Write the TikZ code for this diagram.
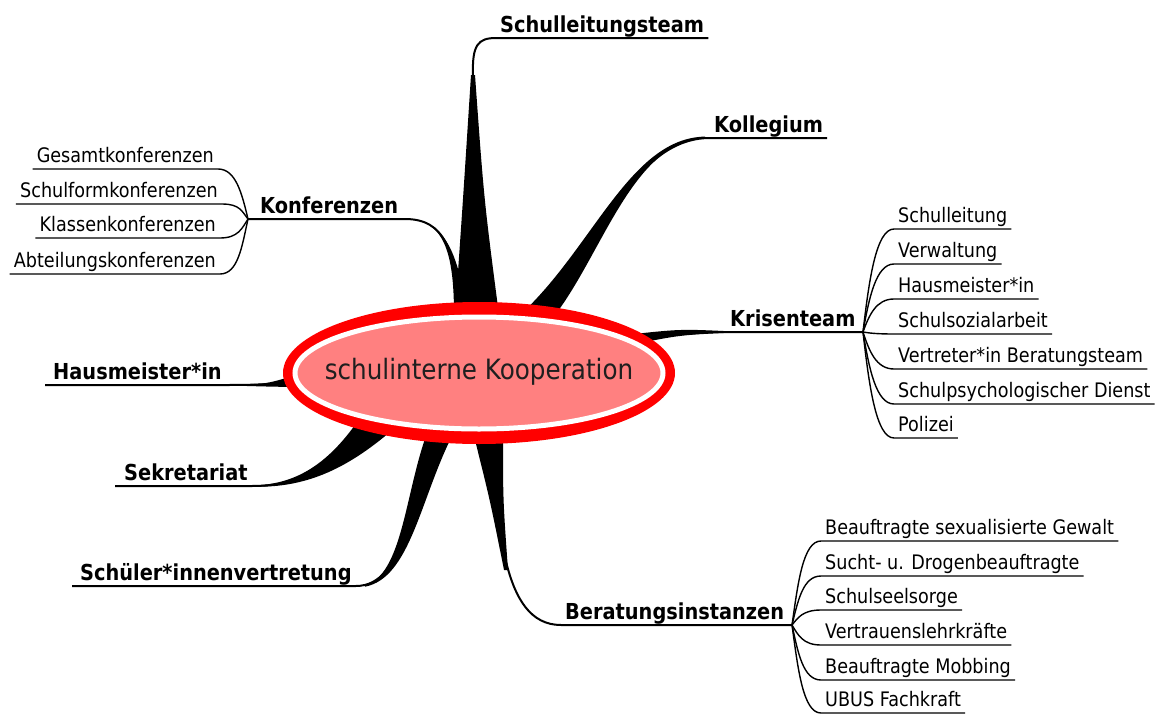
\documentclass[tikz,border=0pt]{standalone}
\usepackage{fontspec}
\setmainfont{DejaVu Sans}[FakeStretch=0.88]
\definecolor{pinkc}{RGB}{255,128,128}
\definecolor{ringred}{RGB}{255,0,0}
\begin{document}
\begin{tikzpicture}[x=1pt,y=-1pt,
  sub/.style={font=\fontsize{20}{23}\selectfont, anchor=south west, inner xsep=4pt, inner ysep=2pt, text height=15pt, text depth=4.5pt},
  subl/.style={sub, anchor=south east},
  mainlbl/.style={font=\fontsize{22}{25}\selectfont\bfseries, anchor=south west, inner xsep=4pt, inner ysep=1.5pt, text height=16pt, text depth=4pt},
  branch/.style={line width=2pt},
  subline/.style={line width=1.4pt},
  taper/.style={fill=black}]
\useasboundingbox (0,0) rectangle (1160,715);

% ---------- labels of main branches
\node[mainlbl] (slt) at (496,38) {Schulleitungsteam};
\node[mainlbl] (kol) at (710,138) {Kollegium};
\node[mainlbl] (kon) at (256,219) {Konferenzen};
\node[mainlbl] (hm) at (49,385) {Hausmeister*in};
\node[mainlbl] (sek) at (120,486) {Sekretariat};
\node[mainlbl] (sv) at (76,586) {Schüler*innenvertretung};
\node[mainlbl] (kt) at (726,332) {Krisenteam};
\node[mainlbl] (bi) at (561,625) {Beratungsinstanzen};

% ---------- junctions and base points
\coordinate (kJ) at (248,219);
\coordinate (ktJ) at (863,332);
\coordinate (biJ) at (792,625);
\coordinate (hmS) at (45,385);
\coordinate (sekS) at (115,486);
\coordinate (svS) at (72,586);
\coordinate (bSLT) at (477,315);
\coordinate (bKOL) at (537,315);
\coordinate (bKON) at (461,315);
\coordinate (bKT) at (630,339);
\coordinate (bBI) at (488,436);
\coordinate (bHM) at (292,382);
\coordinate (bSEK) at (372,430);
\coordinate (bSV) at (438,436);

% ---------- Schulleitungsteam
\fill[taper] (455,315) .. controls (463,200) .. (471,75) -- (475,75) .. controls (484,200) .. (499,315) -- cycle;
\draw[branch] (bSLT) -- (473,75) .. controls (472,45) and (478,38) .. (slt.south west) -- (slt.south east);

% ---------- Kollegium
\fill[taper] (520,315) .. controls (593,248) and (630,138) .. (705,136.6) -- (705,138.4) .. controls (634,140) and (603,252) .. (555,315) -- cycle;
\draw[branch] (bKOL) .. controls (598,250) and (632,138) .. (kol.south west) -- (kol.south east);

% ---------- Konferenzen
\fill[taper] (454,315) .. controls (454,252) and (444,219) .. (405,218.6) -- (405,219.4) .. controls (446,219.5) and (457,252) .. (468,315) -- cycle;
\draw[branch] (bKON) .. controls (455,250) and (445,219) .. (405,219) -- (kJ);

\node[subl] (k1) at (218,169) {Gesamtkonferenzen};
\node[subl] (k2) at (222,204) {Schulformkonferenzen};
\node[subl] (k3) at (220,238) {Klassenkonferenzen};
\node[subl] (k4) at (220,274) {Abteilungskonferenzen};
\draw[subline] (kJ) .. controls +(-6,-25) and +(18,0) .. (k1.south east) -- (k1.south west);
\draw[subline] (kJ) .. controls +(-6,-7.5) and +(18,0) .. (k2.south east) -- (k2.south west);
\draw[subline] (kJ) .. controls +(-6,9.5) and +(18,0) .. (k3.south east) -- (k3.south west);
\draw[subline] (kJ) .. controls +(-6,27.5) and +(18,0) .. (k4.south east) -- (k4.south west);

% ---------- Hausmeister*in
\fill[taper] (240,384.2) .. controls (265,384) .. (290,377) -- (292,387) .. controls (265,386.5) .. (240,385.8) -- cycle;
\draw[branch] (hmS) -- (hm.south west) -- (hm.south east) .. controls (260,385) and (270,384) .. (bHM);

% ---------- Sekretariat
\fill[taper] (355,425) .. controls (328,462) and (298,484) .. (255,485.3) -- (255,486.7) .. controls (305,487.5) and (345,470) .. (390,432) -- cycle;
\draw[branch] (bSEK) .. controls (330,468) and (300,486) .. (sek.south east) -- (sek.south west) -- (sekS);

% ---------- Schueler*innenvertretung
\fill[taper] (426,436) .. controls (405,495) and (402,575) .. (365,585.3) -- (365,586.7) .. controls (410,578) and (420,500) .. (452,436) -- cycle;
\draw[branch] (bSV) .. controls (410,500) and (405,586) .. (sv.south east) -- (sv.south west) -- (svS);

% ---------- Krisenteam
\fill[taper] (625,335) .. controls (680,329) .. (730,331.3) -- (730,332.7) .. controls (680,335) .. (630,345) -- cycle;
\draw[branch] (bKT) .. controls (690,333) and (710,332) .. (kt.south west) -- (ktJ);

\node[sub] (c1) at (894,229) {Schulleitung};
\node[sub] (c2) at (894,264) {Verwaltung};
\node[sub] (c3) at (894,299) {Hausmeister*in};
\node[sub] (c4) at (894,334) {Schulsozialarbeit};
\node[sub] (c5) at (894,369) {Vertreter*in Beratungsteam};
\node[sub] (c6) at (894,404) {Schulpsychologischer Dienst};
\node[sub] (c7) at (894,438) {Polizei};
\draw[subline] (ktJ) .. controls +(6,-51.5) and +(-18,0) .. (c1.south west) -- (c1.south east);
\draw[subline] (ktJ) .. controls +(6,-34) and +(-18,0) .. (c2.south west) -- (c2.south east);
\draw[subline] (ktJ) .. controls +(6,-16.5) and +(-18,0) .. (c3.south west) -- (c3.south east);
\draw[subline] (ktJ) .. controls +(6,1) and +(-18,0) .. (c4.south west) -- (c4.south east);
\draw[subline] (ktJ) .. controls +(6,18.5) and +(-18,0) .. (c5.south west) -- (c5.south east);
\draw[subline] (ktJ) .. controls +(6,36) and +(-18,0) .. (c6.south west) -- (c6.south east);
\draw[subline] (ktJ) .. controls +(6,53) and +(-18,0) .. (c7.south west) -- (c7.south east);

% ---------- Beratungsinstanzen
\fill[taper] (474,436) .. controls (490,500) .. (504,570) -- (508,570) .. controls (503,500) .. (503,436) -- cycle;
\draw[branch] (bBI) .. controls (500,520) and (500,625) .. (bi.south west) -- (biJ);

\node[sub] (d1) at (821,541) {Beauftragte sexualisierte Gewalt};
\node[sub] (d2) at (821,576) {Sucht- u. Drogenbeauftragte};
\node[sub] (d3) at (821,610) {Schulseelsorge};
\node[sub] (d4) at (821,645) {Vertrauenslehrkräfte};
\node[sub] (d5) at (821,680) {Beauftragte Mobbing};
\node[sub] (d6) at (821,713) {UBUS Fachkraft};
\draw[subline] (biJ) .. controls +(6,-42) and +(-18,0) .. (d1.south west) -- (d1.south east);
\draw[subline] (biJ) .. controls +(6,-24.5) and +(-18,0) .. (d2.south west) -- (d2.south east);
\draw[subline] (biJ) .. controls +(6,-7.5) and +(-18,0) .. (d3.south west) -- (d3.south east);
\draw[subline] (biJ) .. controls +(6,10) and +(-18,0) .. (d4.south west) -- (d4.south east);
\draw[subline] (biJ) .. controls +(6,27.5) and +(-18,0) .. (d5.south west) -- (d5.south east);
\draw[subline] (biJ) .. controls +(6,44) and +(-18,0) .. (d6.south west) -- (d6.south east);

% ---------- central topic
\fill[ringred] (479,373) ellipse [x radius=196pt, y radius=71pt];
\filldraw[fill=pinkc, draw=white, line width=5pt] (479,373) ellipse [x radius=184pt, y radius=56pt];
\node[font=\fontsize{28}{32}\selectfont, text=black!88] (c) at (479,372) {schulinterne Kooperation};
\end{tikzpicture}
\end{document}
